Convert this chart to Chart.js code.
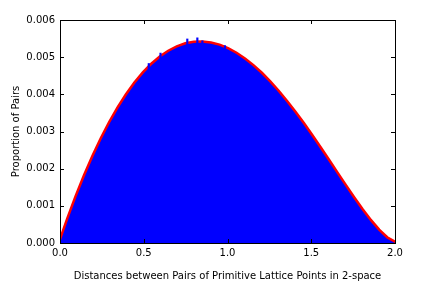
<!DOCTYPE html>
<html lang="en">
<head>
    <meta charset="UTF-8">
    <title>Distances between lattice points</title>
    <script src="https://cdn.jsdelivr.net/npm/chart.js"></script>
    <style>
        body {
            margin: 0;
            padding: 0;
            background-color: #fff;
        }
    </style>
</head>
<body>
    <canvas id="myChart" width="432" height="288"></canvas>

<script>
    // bin positions along the distance axis
    var distances = [0, 0.05, 0.1, 0.15, 0.2, 0.25, 0.3, 0.35, 0.4, 0.45,
        0.5, 0.55, 0.6, 0.65, 0.7, 0.75, 0.8, 0.85, 0.9, 0.95,
        1.0, 1.05, 1.1, 1.15, 1.2, 1.25, 1.3, 1.35, 1.4, 1.45,
        1.5, 1.55, 1.6, 1.65, 1.7, 1.75, 1.8, 1.85, 1.9, 1.95, 2.0];

    // observed proportion of pairs (blue histogram)
    var pairs = [0, 0.000645, 0.001249, 0.001809, 0.002328, 0.002804, 0.003239, 0.003632, 0.003984, 0.004296,
        0.004567, 0.004798, 0.004991, 0.005145, 0.005261, 0.005340, 0.005383, 0.005391, 0.005364, 0.005305,
        0.005213, 0.005091, 0.004940, 0.004761, 0.004556, 0.004327, 0.004075, 0.003802, 0.003512, 0.003207,
        0.002886, 0.002557, 0.002221, 0.001882, 0.001545, 0.001214, 0.000897, 0.000601, 0.000337, 0.000123, 0];

    // expected proportion (red outline)
    var expected = [0, 0.000645, 0.001249, 0.001809, 0.002328, 0.002804, 0.003239, 0.003632, 0.003984, 0.004296,
        0.004567, 0.004798, 0.004991, 0.005145, 0.005261, 0.005340, 0.005383, 0.005391, 0.005364, 0.005305,
        0.005213, 0.005091, 0.004940, 0.004761, 0.004556, 0.004327, 0.004075, 0.003802, 0.003512, 0.003207,
        0.002886, 0.002557, 0.002221, 0.001882, 0.001545, 0.001214, 0.000897, 0.000601, 0.000337, 0.000123, 0];

    // a few noisy bins that poke out above the red line
    var spikeDist = [0.53, 0.60, 0.76, 0.82, 0.85, 0.985];
    var spikeProp = [0.00483, 0.00511, 0.00549, 0.00552, 0.00544, 0.00531];

    var xTicks = [0, 0.5, 1.0, 1.5, 2.0];
    var yTicks = [0, 0.001, 0.002, 0.003, 0.004, 0.005, 0.006];

    Chart.defaults.font.family = '"DejaVu Sans", sans-serif';
    Chart.defaults.font.size = 10;
    Chart.defaults.color = '#000';

    // matplotlib style frame with ticks pointing inwards on all four sides
    var insideTicks = {
        id: 'insideTicks',
        afterDraw: function(chart) {
            var ctx = chart.ctx;
            var a = chart.chartArea;
            var xs = chart.scales.x;
            var ys = chart.scales.y;
            ctx.save();
            ctx.strokeStyle = '#000';
            ctx.lineWidth = 1;
            ctx.beginPath();
            xTicks.forEach(function(v) {
                var px = Math.round(xs.getPixelForValue(v)) + 0.5;
                ctx.moveTo(px, a.bottom);
                ctx.lineTo(px, a.bottom - 4);
                ctx.moveTo(px, a.top);
                ctx.lineTo(px, a.top + 4);
            });
            yTicks.forEach(function(v) {
                var py = Math.round(ys.getPixelForValue(v)) + 0.5;
                ctx.moveTo(a.left, py);
                ctx.lineTo(a.left + 4, py);
                ctx.moveTo(a.right, py);
                ctx.lineTo(a.right - 4, py);
            });
            ctx.stroke();
            ctx.strokeRect(a.left + 0.5, a.top + 0.5, a.right - a.left, a.bottom - a.top);
            ctx.restore();
        }
    };

    function toPoints(xs, ys) {
        return xs.map(function(x, i) { return { x: x, y: ys[i] }; });
    }

    var ctx = document.getElementById('myChart').getContext('2d');
    var myChart = new Chart(ctx, {
        type: 'line',
        data: {
            datasets: [{
                type: 'bar',
                label: 'spikes',
                data: toPoints(spikeDist, spikeProp),
                backgroundColor: '#0000ff',
                barThickness: 1.5,
                grouped: false,
                order: 0
            }, {
                label: 'Pairs',
                data: toPoints(distances, pairs),
                backgroundColor: '#0000ff',
                borderWidth: 0,
                pointRadius: 0,
                fill: 'origin',
                order: 1
            }, {
                label: 'Expected',
                data: toPoints(distances, expected),
                borderColor: '#ff0000',
                borderWidth: 5,
                pointRadius: 0,
                fill: false,
                order: 2
            }]
        },
        options: {
            responsive: false,
            animation: false,
            layout: {
                padding: { left: 0, right: 37, top: 20, bottom: 0 }
            },
            plugins: {
                legend: { display: false },
                tooltip: { enabled: false }
            },
            scales: {
                x: {
                    type: 'linear',
                    min: 0,
                    max: 2,
                    offset: false,
                    grid: { display: false, drawTicks: false, offset: false },
                    border: { display: false },
                    afterBuildTicks: function(s) {
                        s.ticks = xTicks.map(function(v) { return { value: v }; });
                    },
                    afterFit: function(s) { s.height = 45; },
                    ticks: {
                        padding: 4,
                        maxRotation: 0,
                        callback: function(v) { return v.toFixed(1); }
                    },
                    title: {
                        display: true,
                        text: 'Distances between Pairs of Primitive Lattice Points in 2-space',
                        padding: { top: 0, bottom: 6 }
                    }
                },
                y: {
                    min: 0,
                    max: 0.006,
                    grid: { display: false, drawTicks: false },
                    border: { display: false },
                    afterBuildTicks: function(s) {
                        s.ticks = yTicks.map(function(v) { return { value: v }; });
                    },
                    afterFit: function(s) { s.width = 60; },
                    ticks: {
                        padding: 5,
                        callback: function(v) { return v.toFixed(3); }
                    },
                    title: {
                        display: true,
                        text: 'Proportion of Pairs',
                        padding: { top: 10, bottom: 0 }
                    }
                }
            }
        },
        plugins: [insideTicks]
    });
</script>
</body>
</html>
